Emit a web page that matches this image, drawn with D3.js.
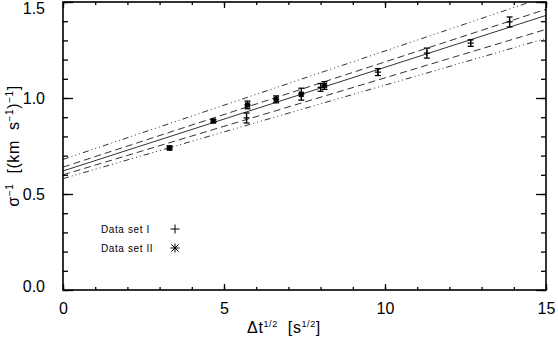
<!DOCTYPE html>
<html>
<head>
<meta charset="utf-8">
<script src="https://cdn.jsdelivr.net/npm/d3@7"></script>
<style>
  body { margin: 0; background: #fff; }
  text { font-family: "Liberation Sans", Arial, sans-serif; fill: #000; white-space: pre; }
</style>
</head>
<body>
<svg id="chart" width="558" height="342"></svg>
<script>
// data
const set1X = [5.7, 8.0, 9.78, 11.3, 12.66, 13.87];
const set1Y = [0.896, 1.055, 1.135, 1.234, 1.286, 1.396];
const set1Err = [0.026, 0.02, 0.018, 0.026, 0.017, 0.026];

const set2X = [3.31, 4.67, 5.73, 6.62, 7.4, 8.12];
const set2Y = [0.74, 0.88, 0.964, 0.993, 1.02, 1.065];
const set2Err = [0.01, 0.008, 0.02, 0.018, 0.031, 0.02];

// fitted line and bounds: [intercept, slope]
const fitLines = [
  { name: "upper2", a: 0.68, b: 0.0565, dash: "6,3,1,3,1,3,1,3" },
  { name: "upper1", a: 0.64, b: 0.0548, dash: "7,4" },
  { name: "fit",    a: 0.62, b: 0.0540, dash: null },
  { name: "lower1", a: 0.60, b: 0.0505, dash: "7,4" },
  { name: "lower2", a: 0.58, b: 0.0487, dash: "6,3,1,3,1,3,1,3" }
];

const xTicks = [0, 5, 10, 15];
const yTicks = [0.0, 0.5, 1.0, 1.5];

const svg = d3.select("#chart");
const margin = { left: 63, right: 12, top: 2, bottom: 52 };
const width = 558 - margin.left - margin.right;
const height = 342 - margin.top - margin.bottom;

const xScale = d3.scaleLinear().domain([0, 15]).range([0, width]);
const yScale = d3.scaleLinear().domain([0, 1.5]).range([height, 0]);

const g = svg.append("g").attr("transform", `translate(${margin.left},${margin.top})`);

svg.append("defs").append("clipPath").attr("id", "plotclip")
  .append("rect").attr("width", width).attr("height", height);

// fit lines
const line = d3.line().x(d => xScale(d[0])).y(d => yScale(d[1]));
const plot = g.append("g").attr("clip-path", "url(#plotclip)");
fitLines.forEach(l => {
  plot.append("path")
    .attr("d", line([[0, l.a], [15, l.a + l.b * 15]]))
    .attr("fill", "none")
    .attr("stroke", "#333")
    .attr("stroke-width", 1)
    .attr("stroke-dasharray", l.dash);
});

// error bars
function errorBars(xs, ys, errs) {
  xs.forEach((x, i) => {
    const px = xScale(x);
    const y1 = yScale(ys[i] - errs[i]);
    const y2 = yScale(ys[i] + errs[i]);
    const eb = plot.append("g").attr("stroke", "#000").attr("stroke-width", 1.3);
    eb.append("line").attr("x1", px).attr("x2", px).attr("y1", y1).attr("y2", y2);
    eb.append("line").attr("x1", px - 3).attr("x2", px + 3).attr("y1", y1).attr("y2", y1);
    eb.append("line").attr("x1", px - 3).attr("x2", px + 3).attr("y1", y2).attr("y2", y2);
  });
}
errorBars(set1X, set1Y, set1Err);
errorBars(set2X, set2Y, set2Err);

function plusPath(px, py, r) {
  return `M${px - r},${py}H${px + r}M${px},${py - r}V${py + r}`;
}
function starPath(px, py, r) {
  const d = r * 0.8;
  return plusPath(px, py, r) + `M${px - d},${py - d}L${px + d},${py + d}M${px - d},${py + d}L${px + d},${py - d}`;
}

set1X.forEach((x, i) => {
  plot.append("path").attr("d", plusPath(xScale(x), yScale(set1Y[i]), 3))
    .attr("stroke", "#000").attr("stroke-width", 1.2).attr("fill", "none");
});
set2X.forEach((x, i) => {
  plot.append("path").attr("d", starPath(xScale(x), yScale(set2Y[i]), 3))
    .attr("stroke", "#000").attr("stroke-width", 1.6).attr("fill", "none");
});

// axes: ticks inward on all four sides
const xMinor = d3.range(0, 15.001, 1);
const yMinor = d3.range(0, 1.5001, 0.1);

const axisBottom = d3.axisBottom(xScale).tickValues(xMinor)
  .tickSize(-3).tickFormat("");
const axisBottomMajor = d3.axisBottom(xScale).tickValues(xTicks)
  .tickSize(-6).tickPadding(13).tickFormat(d3.format("d"));
const axisTop = d3.axisTop(xScale).tickValues(xMinor).tickSize(-3).tickFormat("");
const axisTopMajor = d3.axisTop(xScale).tickValues(xTicks).tickSize(-6).tickFormat("");
const axisLeft = d3.axisLeft(yScale).tickValues(yMinor).tickSize(-5).tickFormat("");
const axisLeftMajor = d3.axisLeft(yScale).tickValues(yTicks)
  .tickSize(-10).tickPadding(18).tickFormat(d3.format(".1f"));
const axisRight = d3.axisRight(yScale).tickValues(yMinor).tickSize(-5).tickFormat("");
const axisRightMajor = d3.axisRight(yScale).tickValues(yTicks).tickSize(-10).tickFormat("");

function styleAxis(sel) {
  sel.select(".domain").remove();
  sel.selectAll(".tick line").attr("stroke", "#000").attr("stroke-width", 1.3);
  sel.selectAll(".tick text").attr("font-size", 16)
    .attr("font-family", "Liberation Sans, Arial, sans-serif");
}

g.append("g").attr("transform", `translate(0,${height})`).call(axisBottom).call(styleAxis);
g.append("g").attr("transform", `translate(0,${height})`).call(axisBottomMajor).call(styleAxis);
g.append("g").call(axisTop).call(styleAxis);
g.append("g").call(axisTopMajor).call(styleAxis);
g.append("g").call(axisLeft).call(styleAxis);
const yLab = g.append("g").call(axisLeftMajor).call(styleAxis);
g.append("g").attr("transform", `translate(${width},0)`).call(axisRight).call(styleAxis);
g.append("g").attr("transform", `translate(${width},0)`).call(axisRightMajor).call(styleAxis);

// keep the end labels inside the canvas like the original
yLab.selectAll(".tick").each(function (d) {
  const t = d3.select(this).select("text");
  if (d === 1.5) t.attr("dy", "0.32em").attr("y", 6);
  if (d === 0) t.attr("y", -4);
});

// frame
g.append("rect").attr("width", width).attr("height", height)
  .attr("fill", "none").attr("stroke", "#000").attr("stroke-width", 1.6);

// axis titles
const xTitle = svg.append("text")
  .attr("x", 284).attr("y", 333)
  .attr("text-anchor", "middle").attr("font-size", 16)
  .attr("letter-spacing", 0.6);
xTitle.append("tspan").text("\u0394t");
xTitle.append("tspan").attr("dy", -6).attr("font-size", 9).text("1/2");
xTitle.append("tspan").attr("dy", 6).text("  [s");
xTitle.append("tspan").attr("dy", -6).attr("font-size", 9).text("1/2");
xTitle.append("tspan").attr("dy", 6).text("]");

const yTitle = svg.append("text")
  .attr("transform", "translate(19,146) rotate(-90)")
  .attr("text-anchor", "middle").attr("font-size", 16)
  .attr("letter-spacing", 0.6);
yTitle.append("tspan").text("\u03c3");
yTitle.append("tspan").attr("dy", -6).attr("font-size", 10).text("\u22121");
yTitle.append("tspan").attr("dy", 6).text("  [(km  s");
yTitle.append("tspan").attr("dy", -6).attr("font-size", 10).text("\u22121");
yTitle.append("tspan").attr("dy", 6).text(")");
yTitle.append("tspan").attr("dy", -6).attr("font-size", 10).text("\u22121");
yTitle.append("tspan").attr("dy", 6).text("]");

// legend
const legendNames = ["Data set I", "Data set II"];
const legend = svg.append("g").attr("transform", "translate(101,229)");
legendNames.forEach((name, i) => {
  legend.append("text").attr("x", 0).attr("y", i * 19 + 4)
    .attr("font-size", 10).attr("letter-spacing", 0.6).text(name);
  const sym = i === 0 ? plusPath(74, i * 19, 4.5) : starPath(74, i * 19, 4.5);
  legend.append("path").attr("d", sym)
    .attr("stroke", "#000").attr("stroke-width", 1).attr("fill", "none");
});
</script>
</body>
</html>
